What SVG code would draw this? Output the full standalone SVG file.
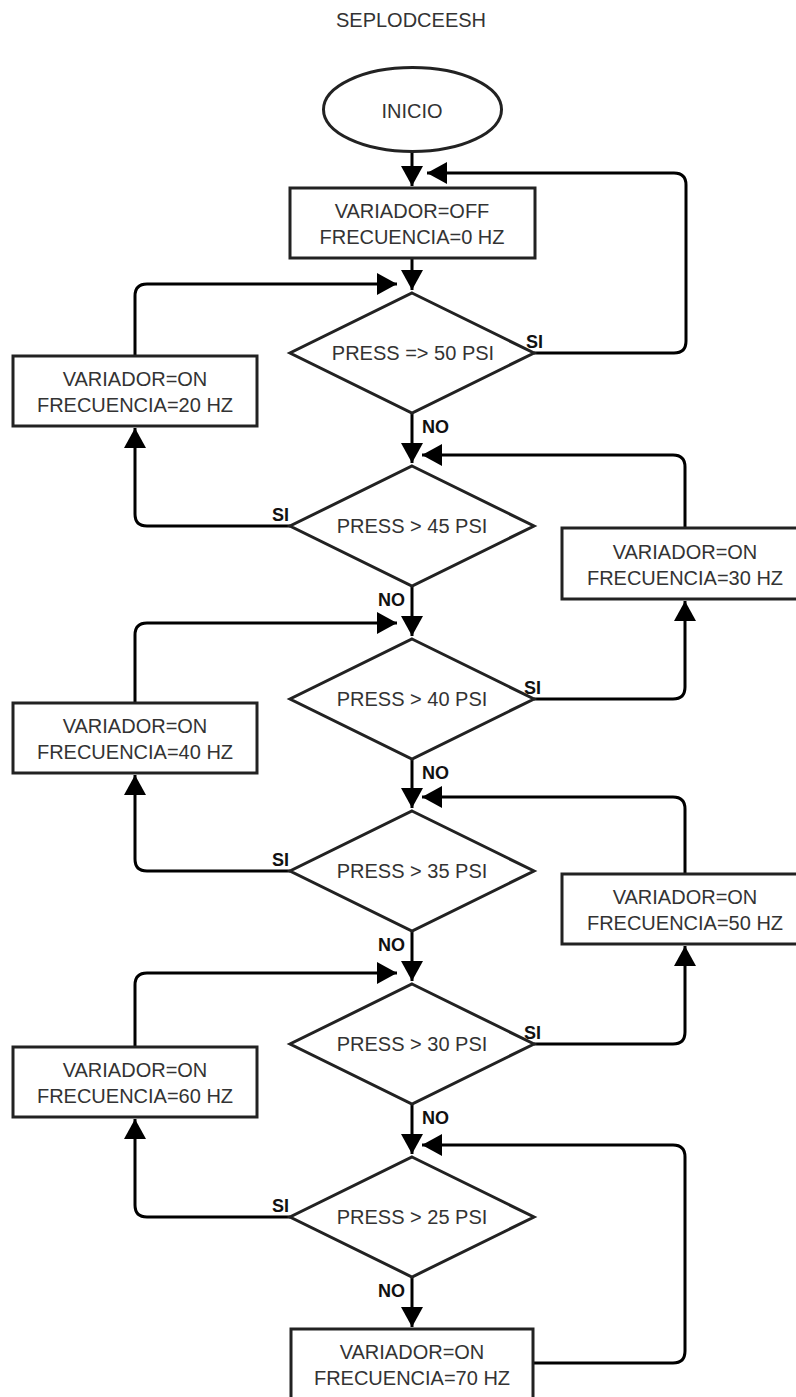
<svg xmlns="http://www.w3.org/2000/svg" width="796" height="1397" viewBox="0 0 796 1397">
<style>
.shape{fill:#fff;stroke:#222;stroke-width:3}
.t{font-family:"Liberation Sans",Arial,sans-serif;font-size:20px;fill:#333;text-anchor:middle}
.lbl{font-family:"Liberation Sans",Arial,sans-serif;font-size:18px;font-weight:bold;fill:#111}
.c{fill:none;stroke:#000;stroke-width:3;marker-end:url(#arr)}
</style>
<defs>
<marker id="arr" markerUnits="userSpaceOnUse" markerWidth="22" markerHeight="22" refX="20" refY="11" orient="auto">
<path d="M0,0 L20,11 L0,22 z" fill="#000"/>
</marker>
</defs>
<rect width="796" height="1397" fill="#fff"/>
<text class="t" x="411" y="27">SEPLODCEESH</text>

<g id="connectors">
<path class="c" d="M412 152 V186"/>
<path class="c" d="M412 258 V290"/>
<path class="c" d="M412 413 V463"/>
<path class="c" d="M412 586 V636"/>
<path class="c" d="M412 759 V808"/>
<path class="c" d="M412 931 V981"/>
<path class="c" d="M412 1104 V1154"/>
<path class="c" d="M412 1277 V1327"/>
<path class="c" d="M534 353 H674 Q686 353 686 341 V185 Q686 173 674 173 H427"/>
<path class="c" d="M290 526 H147 Q135 526 135 514 V428"/>
<path class="c" d="M135 356 V296 Q135 284 147 284 H397"/>
<path class="c" d="M534 699 H673 Q685 699 685 687 V601"/>
<path class="c" d="M685 528 V467 Q685 455 673 455 H422"/>
<path class="c" d="M290 871 H147 Q135 871 135 859 V775"/>
<path class="c" d="M135 703 V635 Q135 623 147 623 H397"/>
<path class="c" d="M534 1044 H673 Q685 1044 685 1032 V946"/>
<path class="c" d="M685 874 V809 Q685 797 673 797 H422"/>
<path class="c" d="M290 1217 H147 Q135 1217 135 1205 V1119"/>
<path class="c" d="M135 1047 V985 Q135 973 147 973 H397"/>
<path class="c" d="M533 1363 H673 Q685 1363 685 1351 V1157 Q685 1145 673 1145 H422"/>
<text class="lbl" x="526" y="348">SI</text>
<text class="lbl" x="422" y="433">NO</text>
<text class="lbl" x="289" y="521" text-anchor="end">SI</text>
<text class="lbl" x="405" y="606" text-anchor="end">NO</text>
<text class="lbl" x="524" y="694">SI</text>
<text class="lbl" x="422" y="779">NO</text>
<text class="lbl" x="289" y="866" text-anchor="end">SI</text>
<text class="lbl" x="405" y="951" text-anchor="end">NO</text>
<text class="lbl" x="524" y="1039">SI</text>
<text class="lbl" x="422" y="1124">NO</text>
<text class="lbl" x="289" y="1212" text-anchor="end">SI</text>
<text class="lbl" x="405" y="1297" text-anchor="end">NO</text>
</g>

<g id="inicio">
<ellipse class="shape" cx="412.5" cy="109.5" rx="89" ry="42"/>
<text class="t" x="412" y="118">INICIO</text>
</g>

<g id="box-off">
<rect class="shape" x="290" y="188" width="245" height="70"/>
<text class="t" x="412" y="218">VARIADOR=OFF</text>
<text class="t" x="412" y="244">FRECUENCIA=0 HZ</text>
</g>

<g id="d50">
<polygon class="shape" points="412,293 534,353 412,413 290,353"/>
<text class="t" x="413" y="360">PRESS =&gt; 50 PSI</text>
</g>

<g id="box-20">
<rect class="shape" x="13" y="356" width="244" height="70"/>
<text class="t" x="135" y="386">VARIADOR=ON</text>
<text class="t" x="135" y="412">FRECUENCIA=20 HZ</text>
</g>

<g id="d45">
<polygon class="shape" points="412,466 534,526 412,586 290,526"/>
<text class="t" x="412" y="533">PRESS &gt; 45 PSI</text>
</g>

<g id="box-30">
<rect class="shape" x="562" y="528" width="245" height="71"/>
<text class="t" x="685" y="559">VARIADOR=ON</text>
<text class="t" x="685" y="585">FRECUENCIA=30 HZ</text>
</g>

<g id="d40">
<polygon class="shape" points="412,639 534,699 412,759 290,699"/>
<text class="t" x="412" y="706">PRESS &gt; 40 PSI</text>
</g>

<g id="box-40">
<rect class="shape" x="13" y="703" width="244" height="70"/>
<text class="t" x="135" y="733">VARIADOR=ON</text>
<text class="t" x="135" y="759">FRECUENCIA=40 HZ</text>
</g>

<g id="d35">
<polygon class="shape" points="412,811 534,871 412,931 290,871"/>
<text class="t" x="412" y="878">PRESS &gt; 35 PSI</text>
</g>

<g id="box-50">
<rect class="shape" x="562" y="874" width="245" height="70"/>
<text class="t" x="685" y="904">VARIADOR=ON</text>
<text class="t" x="685" y="930">FRECUENCIA=50 HZ</text>
</g>

<g id="d30">
<polygon class="shape" points="412,984 534,1044 412,1104 290,1044"/>
<text class="t" x="412" y="1051">PRESS &gt; 30 PSI</text>
</g>

<g id="box-60">
<rect class="shape" x="13" y="1047" width="244" height="70"/>
<text class="t" x="135" y="1077">VARIADOR=ON</text>
<text class="t" x="135" y="1103">FRECUENCIA=60 HZ</text>
</g>

<g id="d25">
<polygon class="shape" points="412,1157 534,1217 412,1277 290,1217"/>
<text class="t" x="412" y="1224">PRESS &gt; 25 PSI</text>
</g>

<g id="box-70">
<rect class="shape" x="291" y="1329" width="242" height="70"/>
<text class="t" x="412" y="1359">VARIADOR=ON</text>
<text class="t" x="412" y="1385">FRECUENCIA=70 HZ</text>
</g>
</svg>
